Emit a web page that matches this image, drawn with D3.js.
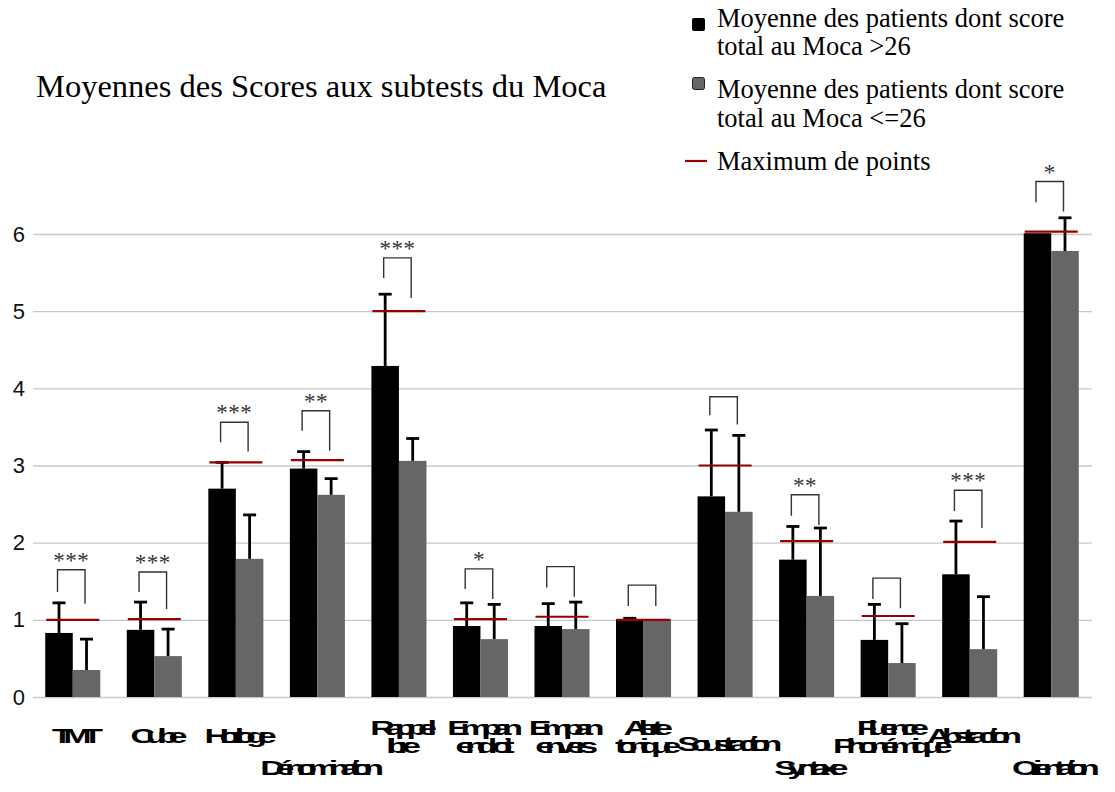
<!DOCTYPE html>
<html>
<head>
<meta charset="utf-8">
<script src="https://cdn.jsdelivr.net/npm/d3@7"></script>
<style>
  html, body { margin: 0; padding: 0; background: #fff; }
  svg { display: block; }
</style>
</head>
<body>
<div id="chart"></div>
<script>
// ---- data ----
const categories = ["TMT","Cube","Horloge","Dénomination","Rappel libre","Empan endroit","Empan envers","Alerte tonique","Soustraction","Syntaxe","Fluence Phonémique","Abstraction","Orientation"];
const categoryLines = [["TMT"],["Cube"],["Horloge"],["Dénomination"],["Rappel","libre"],["Empan","endroit"],["Empan","envers"],["Alerte","tonique"],["Soustraction"],["Syntaxe"],["Fluence","Phonémique"],["Abstraction"],["Orientation"]];
const labelLevel = [0,0,0,2,0,0,0,0,1,2,0,0,2];
const seriesNames = ["Moyenne des patients dont score total au Moca >26","Moyenne des patients dont score total au Moca <=26","Maximum de points"];
const meanHigh = [0.83,0.87,2.70,2.96,4.29,0.92,0.92,1.01,2.60,1.78,0.74,1.59,6.01];
const meanLow  = [0.35,0.53,1.79,2.62,3.06,0.75,0.88,1.01,2.40,1.31,0.44,0.62,5.78];
const sdHigh   = [0.39,0.36,0.34,0.22,0.93,0.30,0.29,0.01,0.86,0.43,0.46,0.69,0.00];
const sdLow    = [0.40,0.35,0.57,0.21,0.29,0.45,0.35,0.00,0.99,0.88,0.51,0.68,0.43];
const maxPoints = [1.00,1.01,3.04,3.07,5.00,1.01,1.04,1.00,3.00,2.02,1.05,2.01,6.03];
const bracketTop   = [1.65,1.62,3.56,3.71,5.69,1.66,1.69,1.45,3.89,2.62,1.54,2.68,6.68];
const bracketLeft  = [1.36,1.36,3.30,3.45,5.43,1.40,1.42,1.18,3.65,2.35,1.27,2.41,6.41];
const bracketRight = [1.21,1.14,3.18,3.19,5.17,1.27,1.30,1.18,3.53,2.23,1.15,2.19,6.29];
const stars = ["***","***","***","**","***","*","","","","**","","***","*"];
const yTicks = [0,1,2,3,4,5,6];
const title = "Moyennes des Scores aux subtests du Moca";

// ---- layout ----
const W = 1115, H = 792;
const svg = d3.select("#chart").append("svg").attr("width", W).attr("height", H);

const x = d3.scaleBand().domain(categories).range([32, 1092]).paddingInner(0.325).paddingOuter(0.1625);
const sub = d3.scaleBand().domain(["high","low"]).range([0, x.bandwidth()]);
const y = d3.scaleLinear().domain([0, 6]).range([697, 234]);

// grid + y axis
const yAxis = d3.axisLeft(y).tickValues(yTicks).tickSize(-(1092 - 33)).tickPadding(8).tickFormat(d3.format("d"));
const gy = svg.append("g").attr("transform", "translate(33,0)").call(yAxis);
gy.select(".domain").remove();
gy.selectAll(".tick line").attr("stroke", "#c8c8c8").attr("stroke-width", 1.4);
gy.selectAll(".tick text").attr("font-family", "'Liberation Sans', Arial, sans-serif").attr("font-size", 22).attr("fill", "#111");

const data = categories.map((c, i) => ({c, i, hi: meanHigh[i], lo: meanLow[i], sh: sdHigh[i], sl: sdLow[i], mx: maxPoints[i],
  bt: bracketTop[i], bl: bracketLeft[i], br: bracketRight[i], st: stars[i]}));

const g = svg.append("g");
// bars
g.selectAll("rect.hi").data(data).join("rect")
  .attr("x", d => x(d.c) + sub("high")).attr("width", sub.bandwidth())
  .attr("y", d => y(d.hi)).attr("height", d => y(0) - y(d.hi)).attr("fill", "#000");
g.selectAll("rect.lo").data(data).join("rect")
  .attr("x", d => x(d.c) + sub("low")).attr("width", sub.bandwidth())
  .attr("y", d => y(d.lo)).attr("height", d => y(0) - y(d.lo)).attr("fill", "#666");

// error bars
function errBar(key, mean, sd) {
  const eg = g.append("g").attr("stroke", "#000").attr("stroke-width", 2.8);
  data.filter(d => d[sd] > 0.005).forEach(d => {
    const cx = x(d.c) + sub(key) + sub.bandwidth() / 2;
    eg.append("line").attr("x1", cx).attr("x2", cx).attr("y1", y(d[mean])).attr("y2", y(d[mean] + d[sd]));
    eg.append("line").attr("x1", cx - 6.5).attr("x2", cx + 6.5).attr("y1", y(d[mean] + d[sd])).attr("y2", y(d[mean] + d[sd]));
  });
}
errBar("high", "hi", "sh");
errBar("low", "lo", "sl");

// max lines
g.selectAll("line.mx").data(data).join("line")
  .attr("x1", d => x(d.c) + 1).attr("x2", d => x(d.c) + x.bandwidth() - 1)
  .attr("y1", d => y(d.mx)).attr("y2", d => y(d.mx))
  .attr("stroke", "#990000").attr("stroke-width", 2.2);

// brackets
data.forEach(d => {
  const lx = x(d.c) + sub("high") + sub.bandwidth() / 2 - 1.5;
  const rx = x(d.c) + sub("low") + sub.bandwidth() / 2 - 1.5;
  g.append("path")
    .attr("d", `M${lx},${y(d.bl)}V${y(d.bt)}H${rx}V${y(d.br)}`)
    .attr("fill", "none").attr("stroke", "#333").attr("stroke-width", 1.4);
  if (d.st) {
    g.append("text").attr("x", (lx + rx) / 2).attr("y", y(d.bt) - 2)
      .attr("text-anchor", "middle").attr("font-family", "'Liberation Serif', 'Times New Roman', serif")
      .attr("font-size", 23).attr("fill", "#333").attr("letter-spacing", 0.5).text(d.st);
  }
});

// x labels (condensed / overlapping look)
const levelBase = [46, 54, 78];
data.forEach(d => {
  const lines = categoryLines[d.i];
  const cx = x(d.c) + x.bandwidth() / 2;
  const base = y(0) + levelBase[labelLevel[d.i]];
  lines.forEach((ln, k) => {
    const by = lines.length === 1 ? base : base - 8 + k * 18;
    svg.append("g").attr("transform", `translate(${cx},${by}) scale(1.7,1)`)
      .append("text").attr("x", 0).attr("y", 0).attr("text-anchor", "middle")
      .attr("font-family", "'Liberation Sans', Arial, sans-serif").attr("font-size", 20).attr("font-weight", "bold")
      .attr("letter-spacing", -5.5).attr("fill", "#000").text(ln);
  });
});

// title
svg.append("text").attr("x", 36).attr("y", 97)
  .attr("font-family", "'Liberation Serif', 'Times New Roman', serif").attr("font-size", 32.5)
  .attr("fill", "#000").text(title);

// legend
const lg = svg.append("g").attr("font-family", "'Liberation Serif', 'Times New Roman', serif").attr("font-size", 26.5).attr("fill", "#000");
lg.append("rect").attr("x", 692).attr("y", 18).attr("width", 13).attr("height", 13).attr("rx", 2).attr("fill", "#000");
lg.append("rect").attr("x", 692.5).attr("y", 77.5).attr("width", 12).attr("height", 12).attr("rx", 2).attr("fill", "#666").attr("stroke", "#222").attr("stroke-width", 1);
lg.append("line").attr("x1", 685).attr("x2", 707).attr("y1", 161).attr("y2", 161).attr("stroke", "#990000").attr("stroke-width", 2.2);
const legendLines = [
  [seriesNames[0].slice(0, 31), 27], [seriesNames[0].slice(32), 55],
  [seriesNames[1].slice(0, 31), 98], [seriesNames[1].slice(32), 127],
  [seriesNames[2], 170]
];
legendLines.forEach(([t, by]) => lg.append("text").attr("x", 717).attr("y", by).text(t));
</script>
</body>
</html>
